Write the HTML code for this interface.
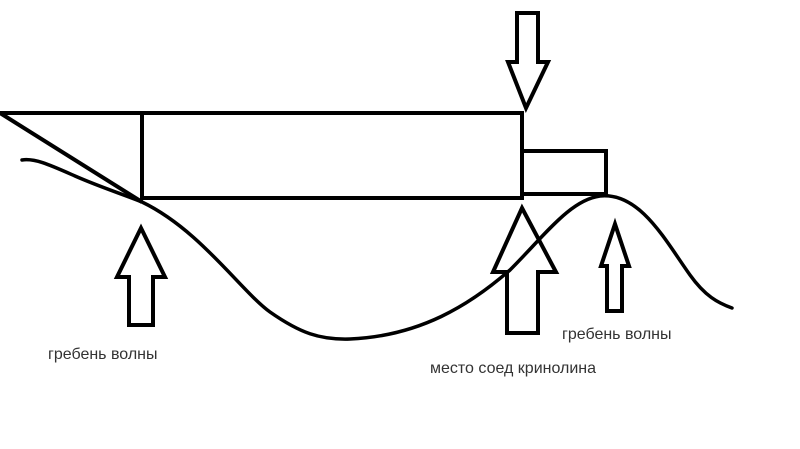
<!DOCTYPE html>
<html><head><meta charset="utf-8"><style>
html,body{margin:0;padding:0;background:#fff;width:800px;height:449px;overflow:hidden}
svg{display:block}
text{font-family:"Liberation Sans","DejaVu Sans",sans-serif;font-size:16px;fill:#333}
</style></head><body>
<svg width="800" height="449" viewBox="0 0 800 449" xmlns="http://www.w3.org/2000/svg">
<g fill="none" stroke="#000" stroke-width="4" stroke-linejoin="miter">
<polyline points="0,113 522,113 522,198 142,198 142,113"/>
<line x1="0" y1="113" x2="142" y2="202"/>
<polyline points="522,151 606,151 606,194 522,194"/>
<polygon points="517,13 538,13 538,62 548,62 526,108 508,62 517,62"/>
<polygon points="141,228 165,277 153,277 153,325 129,325 129,277 117,277"/>
<polygon points="522,208 556,272 538,272 538,333 507,333 507,272 493,272"/>
<polygon points="615,224 629,266 622,266 622,311 607,311 607,266 601,266"/>
</g>
<g fill="none" stroke="#000" stroke-width="3.5" stroke-linecap="round">
<path d="M22,160 C35,158 50,165 75,176 C100,187 125,195 142,202 C200,230 240,290 270,312 C300,333 320,340 350,339 C420,336 470,305 510,270 C545,235 570,200 600,196 C640,192 665,240 690,275 C705,296 718,303 732,308"/>
</g>
<text x="48" y="359">гребень волны</text>
<text x="562" y="339">гребень волны</text>
<text x="430" y="373">место соед кринолина</text>
</svg>
</body></html>
